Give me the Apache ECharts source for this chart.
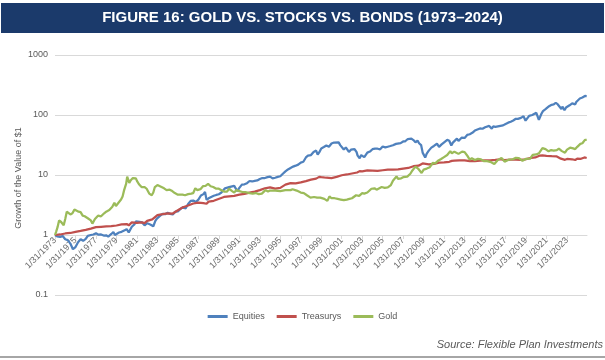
<!DOCTYPE html>
<html><head><meta charset="utf-8">
<script src="https://cdn.jsdelivr.net/npm/echarts@6/dist/echarts.min.js"></script>
<style>html,body{margin:0;padding:0;background:#fff}#c{width:605px;height:360px}</style>
</head><body><div id="c"></div>
<script>
const titleText = 'FIGURE 16: GOLD VS. STOCKS VS. BONDS (1973–2024)';
const sourceText = 'Source: Flexible Plan Investments';
const yAxisName = 'Growth of the Value of $1';
const seriesNames = ['Equities', 'Treasurys', 'Gold'];
const xTickYears = [1973,1975,1977,1979,1981,1983,1985,1987,1989,1991,1993,1995,1997,1999,2001,2003,2005,2007,2009,2011,2013,2015,2017,2019,2021,2023];
const yTicks = [0.1, 1, 10, 100, 1000];

// [year, growth of $1]
const equities = [
[1973.0,1.00],[1973.2,0.95],[1973.5,0.93],[1973.75,0.96],[1974.0,0.85],[1974.25,0.82],[1974.5,0.72],[1974.75,0.58],[1975.0,0.63],[1975.25,0.76],[1975.5,0.85],[1975.75,0.80],[1976.0,0.86],[1976.2,0.97],[1976.5,1.00],[1976.75,1.02],[1977.0,1.065],[1977.25,1.01],[1977.5,1.02],[1977.75,0.98],[1978.0,0.99],[1978.2,0.94],[1978.5,1.04],[1978.7,1.12],[1978.85,1.00],[1979.0,1.05],[1979.25,1.10],[1979.5,1.13],[1979.8,1.20],[1979.9,1.15],[1980.0,1.25],[1980.2,1.10],[1980.5,1.37],[1980.75,1.50],[1980.9,1.68],[1981.0,1.65],[1981.25,1.66],[1981.5,1.62],[1981.75,1.45],[1982.0,1.57],[1982.3,1.50],[1982.6,1.40],[1982.8,1.72],[1982.95,1.88],[1983.25,2.08],[1983.5,2.25],[1983.75,2.22],[1984.0,2.34],[1984.25,2.25],[1984.5,2.20],[1984.75,2.45],[1985.0,2.48],[1985.25,2.72],[1985.5,2.90],[1985.75,2.78],[1986.0,3.28],[1986.25,3.70],[1986.5,3.75],[1986.75,3.55],[1987.0,3.89],[1987.25,4.55],[1987.5,4.80],[1987.65,5.20],[1987.8,3.85],[1988.0,4.09],[1988.25,4.30],[1988.5,4.50],[1988.75,4.65],[1989.0,4.78],[1989.25,5.10],[1989.6,6.00],[1989.75,5.95],[1990.0,6.28],[1990.1,5.85],[1990.5,6.60],[1990.8,5.40],[1991.0,6.09],[1991.25,6.90],[1991.5,7.00],[1991.75,7.30],[1992.0,7.94],[1992.25,7.80],[1992.5,8.00],[1992.75,8.10],[1993.0,8.55],[1993.25,8.90],[1993.5,8.90],[1993.75,9.20],[1994.0,9.41],[1994.25,8.80],[1994.5,9.00],[1994.75,9.30],[1995.0,9.53],[1995.25,10.5],[1995.5,11.5],[1995.75,12.4],[1996.0,13.1],[1996.25,13.8],[1996.5,14.3],[1996.75,14.9],[1997.0,16.1],[1997.25,16.6],[1997.5,19.6],[1997.7,21.0],[1997.85,20.2],[1998.0,21.5],[1998.25,24.2],[1998.5,25.5],[1998.65,21.8],[1998.8,23.8],[1999.0,27.7],[1999.25,29.2],[1999.5,31.0],[1999.75,29.5],[2000.0,33.5],[2000.1,31.8],[2000.25,34.8],[2000.4,32.8],[2000.7,35.0],[2000.85,31.5],[2001.0,30.4],[2001.2,26.6],[2001.4,28.8],[2001.7,24.2],[2001.9,26.4],[2002.0,26.8],[2002.25,27.1],[2002.45,24.0],[2002.55,21.0],[2002.75,19.0],[2002.9,21.5],[2003.0,20.9],[2003.2,19.8],[2003.5,23.6],[2003.75,24.6],[2004.0,26.9],[2004.25,27.5],[2004.5,27.4],[2004.75,26.8],[2005.0,29.8],[2005.25,28.8],[2005.5,29.6],[2005.75,30.4],[2006.0,31.3],[2006.3,33.0],[2006.45,31.6],[2006.75,34.0],[2007.0,36.2],[2007.2,36.5],[2007.45,39.8],[2007.6,37.6],[2007.8,40.4],[2008.0,38.2],[2008.2,35.1],[2008.4,37.5],[2008.55,33.8],[2008.75,31.5],[2008.85,26.2],[2008.9,23.6],[2009.0,24.1],[2009.15,19.5],[2009.3,22.8],[2009.5,25.5],[2009.75,28.6],[2010.0,30.5],[2010.1,29.4],[2010.3,33.2],[2010.5,29.4],[2010.75,32.4],[2011.0,35.1],[2011.3,38.5],[2011.5,37.2],[2011.7,31.0],[2011.85,34.6],[2012.0,35.8],[2012.25,40.3],[2012.4,37.0],[2012.7,41.8],[2012.85,40.5],[2013.0,41.5],[2013.25,46.5],[2013.5,47.8],[2013.75,50.5],[2014.0,55.0],[2014.1,52.6],[2014.5,59.6],[2014.75,59.0],[2015.0,62.5],[2015.1,60.8],[2015.4,65.8],[2015.65,59.3],[2015.8,64.8],[2016.0,63.4],[2016.1,60.6],[2016.5,66.0],[2016.75,67.2],[2017.0,71.0],[2017.25,74.5],[2017.5,77.3],[2017.75,81.0],[2018.0,86.4],[2018.08,91.5],[2018.2,86.0],[2018.5,89.5],[2018.75,95.0],[2018.95,80.5],[2019.0,82.6],[2019.3,97.0],[2019.4,91.0],[2019.6,100],[2019.75,101],[2020.0,108.7],[2020.12,110],[2020.25,83.0],[2020.5,105],[2020.65,116],[2020.75,112],[2020.9,125],[2021.0,128.7],[2021.25,140],[2021.5,148],[2021.7,150],[2021.75,144],[2021.9,160],[2022.0,165.6],[2022.1,150],[2022.25,155],[2022.45,126],[2022.55,138],[2022.6,144],[2022.75,120],[2022.9,133],[2023.0,135.6],[2023.25,145],[2023.5,156],[2023.6,162],[2023.8,150],[2023.9,165],[2024.0,171.3],[2024.25,188],[2024.35,181],[2024.5,196],[2024.75,208],[2024.92,207]
];

const treasurys = [
[1973.0,1.00],[1973.5,1.02],[1974.0,1.06],[1974.5,1.08],[1975.0,1.13],[1975.5,1.17],[1976.0,1.22],[1976.5,1.28],[1977.0,1.35],[1977.5,1.37],[1978.0,1.39],[1978.5,1.40],[1979.0,1.44],[1979.5,1.50],[1980.0,1.52],[1980.2,1.45],[1980.5,1.62],[1981.0,1.60],[1981.5,1.62],[1981.75,1.58],[1982.0,1.72],[1982.5,1.82],[1983.0,2.15],[1983.5,2.22],[1984.0,2.30],[1984.5,2.28],[1985.0,2.58],[1985.5,2.90],[1986.0,3.10],[1986.5,3.35],[1987.0,3.45],[1987.5,3.40],[1987.8,3.32],[1988.0,3.60],[1988.5,3.72],[1988.9,3.95],[1989.5,4.30],[1990.0,4.40],[1990.5,4.50],[1991.0,4.70],[1991.5,4.85],[1992.0,5.10],[1992.5,5.30],[1993.0,5.60],[1993.5,6.00],[1994.0,6.20],[1994.5,5.95],[1995.0,6.10],[1995.5,6.90],[1996.0,7.30],[1996.5,7.25],[1997.0,7.55],[1997.5,7.90],[1998.0,8.35],[1998.5,8.70],[1998.8,9.30],[1999.0,9.20],[1999.5,9.00],[2000.0,8.90],[2000.5,9.30],[2001.0,9.90],[2001.5,10.2],[2002.0,10.6],[2002.5,11.0],[2002.75,11.6],[2003.0,11.5],[2003.5,11.9],[2004.0,11.8],[2004.5,11.7],[2005.0,12.0],[2005.5,12.3],[2006.0,12.3],[2006.5,12.4],[2007.0,12.8],[2007.5,13.1],[2008.0,14.0],[2008.5,14.3],[2008.9,15.6],[2009.0,15.6],[2009.5,15.1],[2010.0,15.3],[2010.5,16.1],[2011.0,16.3],[2011.5,16.6],[2011.75,17.2],[2012.0,17.3],[2012.5,17.5],[2013.0,17.5],[2013.5,17.1],[2014.0,17.0],[2014.5,17.3],[2015.0,17.6],[2015.5,17.5],[2016.0,17.8],[2016.5,18.3],[2016.9,17.7],[2017.5,18.0],[2018.0,18.0],[2018.5,17.9],[2018.9,18.2],[2019.5,19.3],[2019.9,19.6],[2020.3,21.0],[2020.6,21.2],[2021.0,20.9],[2021.5,20.6],[2022.0,20.4],[2022.4,18.7],[2022.8,17.9],[2023.0,18.5],[2023.5,18.3],[2023.8,17.8],[2024.0,18.8],[2024.3,18.5],[2024.7,19.6],[2024.92,19.2]
];

const gold = [
[1973.0,1.00],[1973.1,1.12],[1973.25,1.35],[1973.4,1.75],[1973.5,1.80],[1973.6,1.65],[1973.85,1.45],[1974.0,1.85],[1974.15,2.45],[1974.3,2.45],[1974.5,2.20],[1974.7,2.30],[1974.9,2.65],[1975.05,2.55],[1975.3,2.45],[1975.5,2.40],[1975.7,2.10],[1975.9,2.05],[1976.2,1.90],[1976.5,1.75],[1976.65,1.55],[1976.9,1.85],[1977.2,2.10],[1977.5,2.05],[1977.8,2.30],[1978.0,2.45],[1978.3,2.60],[1978.6,2.95],[1978.8,3.45],[1978.95,3.05],[1979.2,3.45],[1979.45,3.90],[1979.6,4.40],[1979.75,5.60],[1979.85,5.90],[1979.95,7.20],[1980.05,9.40],[1980.15,9.70],[1980.25,7.40],[1980.4,8.20],[1980.6,8.90],[1980.75,9.60],[1980.9,8.80],[1981.0,8.00],[1981.2,7.00],[1981.45,6.30],[1981.6,6.10],[1981.75,6.30],[1981.95,5.90],[1982.2,4.90],[1982.45,4.60],[1982.6,5.10],[1982.75,6.30],[1983.0,6.80],[1983.15,7.10],[1983.4,6.30],[1983.65,6.00],[1983.9,5.60],[1984.2,5.70],[1984.45,5.40],[1984.7,5.00],[1985.0,4.70],[1985.15,4.40],[1985.45,4.70],[1985.7,4.60],[1986.0,4.80],[1986.3,4.90],[1986.5,5.00],[1986.7,6.00],[1986.9,5.60],[1987.2,5.80],[1987.45,6.50],[1987.7,6.60],[1987.95,7.10],[1988.2,6.50],[1988.45,6.30],[1988.75,5.90],[1989.0,5.90],[1989.3,5.50],[1989.5,5.30],[1989.8,5.30],[1990.0,5.90],[1990.3,5.40],[1990.5,5.10],[1990.7,5.60],[1991.0,5.40],[1991.3,5.20],[1991.6,5.20],[1992.0,5.00],[1992.3,4.90],[1992.6,5.00],[1992.9,4.80],[1993.2,4.90],[1993.55,5.60],[1993.8,5.30],[1994.0,5.50],[1994.5,5.50],[1995.0,5.40],[1995.5,5.60],[1996.0,5.60],[1996.2,5.80],[1996.6,5.50],[1997.0,5.10],[1997.3,5.00],[1997.6,4.60],[1997.95,4.20],[1998.3,4.30],[1998.6,4.20],[1998.9,4.20],[1999.3,4.00],[1999.6,3.70],[1999.8,4.40],[2000.0,4.10],[2000.3,4.10],[2000.6,4.00],[2000.9,3.90],[2001.2,3.80],[2001.5,3.90],[2001.75,4.00],[2002.0,4.10],[2002.4,4.60],[2002.7,4.50],[2003.0,5.00],[2003.2,4.90],[2003.5,5.10],[2003.9,5.90],[2004.2,6.00],[2004.4,5.70],[2004.9,6.30],[2005.2,6.10],[2005.5,6.20],[2005.8,6.80],[2006.0,8.00],[2006.35,9.50],[2006.5,8.60],[2006.8,8.80],[2007.0,9.20],[2007.4,9.40],[2007.7,10.5],[2007.9,11.9],[2008.2,13.8],[2008.45,12.8],[2008.8,10.8],[2009.0,12.3],[2009.3,12.8],[2009.6,13.5],[2009.9,16.0],[2010.1,15.5],[2010.45,17.5],[2010.7,18.5],[2010.95,19.7],[2011.3,21.5],[2011.6,25.0],[2011.75,23.0],[2012.0,24.5],[2012.4,22.5],[2012.75,24.5],[2013.0,24.0],[2013.3,20.5],[2013.5,18.0],[2013.7,19.0],[2014.0,17.8],[2014.3,18.6],[2014.6,18.2],[2014.9,17.0],[2015.2,17.0],[2015.5,16.6],[2015.9,15.3],[2016.2,17.5],[2016.6,19.3],[2016.9,16.7],[2017.3,18.0],[2017.7,18.3],[2018.0,19.3],[2018.3,19.1],[2018.65,17.3],[2019.0,18.6],[2019.4,18.8],[2019.65,21.6],[2020.0,22.0],[2020.25,23.0],[2020.6,28.0],[2020.9,27.0],[2021.2,24.8],[2021.45,26.0],[2021.7,25.4],[2022.0,26.0],[2022.2,27.5],[2022.5,25.0],[2022.8,23.5],[2023.0,26.5],[2023.3,28.5],[2023.6,27.8],[2023.8,27.0],[2024.0,29.5],[2024.3,33.0],[2024.5,33.8],[2024.75,38.5],[2024.92,38.5]
];

const colors = ['#4F81BD', '#C0504D', '#9BBB59'];
const FONT = '"Liberation Sans", Arial, sans-serif';
const chart = echarts.init(document.getElementById('c'), null, {renderer: 'canvas'});
const lineData = [equities, treasurys, gold];

chart.setOption({
  animation: false,
  backgroundColor: '#ffffff',
  textStyle: {fontFamily: FONT},
  graphic: [
    {type: 'rect', left: 1, top: 3, shape: {width: 603, height: 30}, style: {fill: '#1B3A6B'}, z: -1},
    {type: 'rect', left: 0, top: 356, shape: {width: 605, height: 2}, style: {fill: '#A6A6A6'}, z: -1},
    {type: 'text', x: 19, y: 178, rotation: Math.PI / 2,
     style: {text: yAxisName, fill: '#595959', font: '9px "Liberation Sans", Arial, sans-serif',
             textAlign: 'center', textVerticalAlign: 'middle'}}
  ],
  title: [
    {text: titleText, left: 'center', top: 10, padding: 0,
     textStyle: {color: '#ffffff', fontSize: 15, fontWeight: 'bold', fontFamily: FONT}},
    {text: sourceText, right: 2, top: 339, padding: 0,
     textStyle: {color: '#595959', fontSize: 11, fontStyle: 'italic', fontWeight: 'normal', fontFamily: FONT}}
  ],
  legend: {
    data: seriesNames, left: 'center', top: 307, icon: 'rect', itemWidth: 20, itemHeight: 3, itemGap: 12,
    textStyle: {color: '#595959', fontSize: 9, fontFamily: FONT}
  },
  grid: {left: 55, right: 18, top: 55, bottom: 65, containLabel: false},
  xAxis: {
    type: 'value', min: 1973, max: 2024.95, offset: -60,
    axisLine: {show: true, onZero: false, lineStyle: {color: '#D9D9D9', width: 1}},
    axisTick: {show: true, length: 4, lineStyle: {color: '#D9D9D9'}, customValues: xTickYears},
    axisLabel: {show: true, rotate: 45, margin: 4, color: '#6b6b6b', fontSize: 9, fontFamily: FONT,
      customValues: xTickYears, formatter: v => '1/31/' + Math.round(v)},
    splitLine: {show: false}
  },
  yAxis: {
    type: 'log', logBase: 10, min: 0.1, max: 1000,
    axisLine: {show: false}, axisTick: {show: false},
    axisLabel: {color: '#595959', fontSize: 9, margin: 7, fontFamily: FONT,
      customValues: yTicks, formatter: v => String(v)},
    splitLine: {show: true, lineStyle: {color: '#D9D9D9', width: 1}}
  },
  series: seriesNames.map((name, i) => ({
    name, type: 'line', data: lineData[i], showSymbol: false, symbol: 'none',
    color: colors[i], lineStyle: {color: colors[i], width: 2.25}, z: 2 + i
  }))
});
</script>
</body></html>
